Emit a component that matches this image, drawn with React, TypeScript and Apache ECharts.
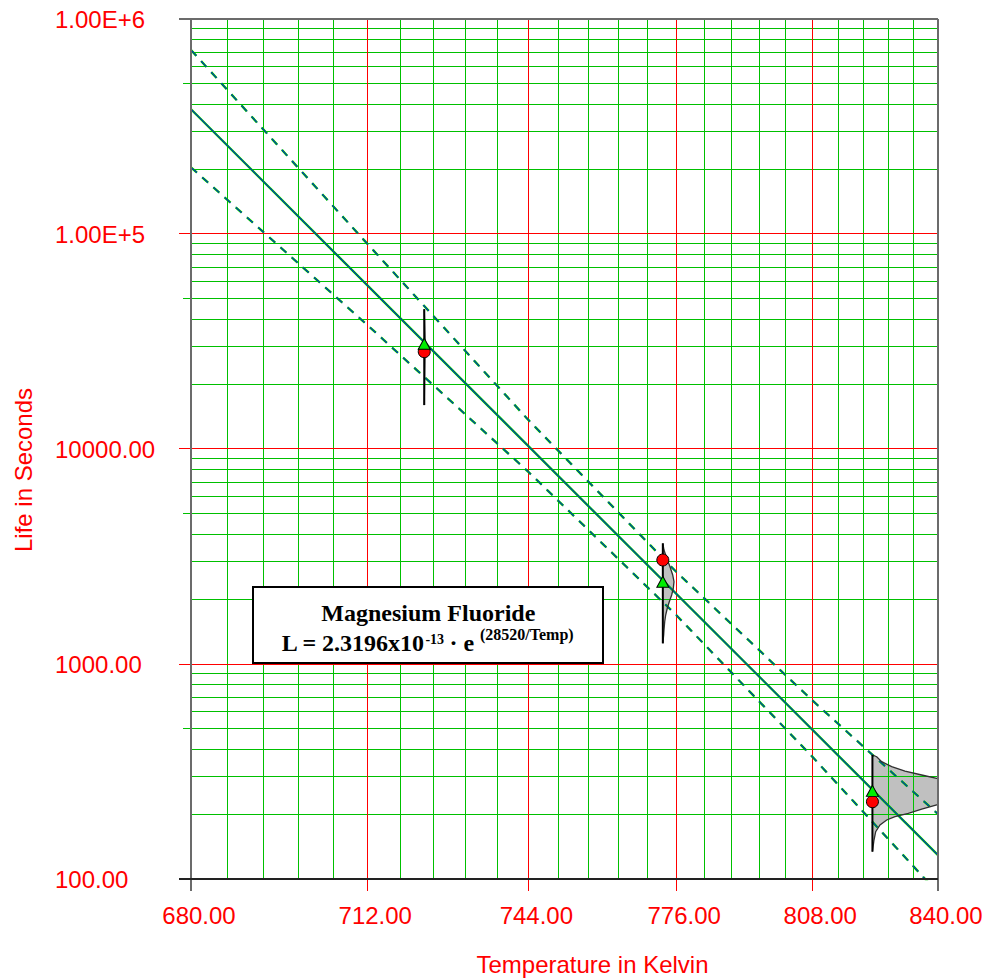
import React, { useEffect, useRef } from "react";
import * as echarts from "echarts";

// ---------- axis ticks ----------
const xMajorTicks = [680, 712, 744, 776, 808, 840];
const xTickLabels = ["680.00", "712.00", "744.00", "776.00", "808.00", "840.00"];
const xMinorTicks = [
  686.4, 692.8, 699.2, 705.6, 718.4, 724.8, 731.2, 737.6, 750.4, 756.8,
  763.2, 769.6, 782.4, 788.8, 795.2, 801.6, 814.4, 820.8, 827.2, 833.6,
];
const yMajorTicks = [100, 1000, 10000, 100000, 1000000];
const yTickLabels = ["100.00", "1000.00", "10000.00", "1.00E+5", "1.00E+6"];
const yMinorTicks = [
  200, 300, 400, 500, 600, 700, 800, 900,
  2000, 3000, 4000, 5000, 6000, 7000, 8000, 9000,
  20000, 30000, 40000, 50000, 60000, 70000, 80000, 90000,
  200000, 300000, 400000, 500000, 600000, 700000, 800000, 900000,
];
const yHalfDecadeTicks = [500, 5000, 50000, 500000];

// ---------- fitted life line and confidence bounds ----------
const fitTemps = [680, 840];
const fitLife = [380400, 129.1];
const boundTemps = [680, 712, 744, 776, 808, 840];
const upperLife = [717800, 90160, 13650, 2685, 677.6, 200.4];
const lowerLife = [204200, 37760, 7834, 1690, 370.7, 86.1];

// ---------- stress levels ----------
const stressTemps = [723, 773, 823];
const pointLife = [28350, 3046, 228.8];
const medianLife = [30850, 2414, 257];

// pdf outlines at each stress level, [temperature, life]
const pdf723 = [
  [723, 44700], [723.06, 40000], [723.12, 35000], [723.18, 30500],
  [723.12, 25500], [723.06, 20500], [723, 16000],
];
const pdf773 = [
  [773, 3642], [773.26, 3390], [773.87, 3102], [774.61, 2835], [775.22, 2594],
  [775.51, 2414], [775.35, 2249], [774.99, 2094], [774.45, 1949], [774.0, 1816],
  [773.64, 1690], [773.42, 1573], [773.26, 1439], [773.19, 1364], [773, 1248],
];
const pdf823 = [
  [823, 377.4], [824.09, 370.6], [825.36, 351.3], [827.92, 332.9], [831.36, 317.9],
  [835.71, 304.6], [839.65, 294.1], [842, 292], [842, 222.5], [839.65, 220.9],
  [835.71, 211.6], [832.21, 202.1], [828.77, 194.9], [826.64, 188.1], [824.93, 178.3],
  [823.83, 166.0], [823.4, 151.8], [823, 134],
];
const pdfs = [pdf723, pdf773, pdf823];

// ---------- styles ----------
const RED = "#ff0000";
const GREEN = "#00c000";
const FRAME = "#6b6b6b";
const SANS = '"Liberation Sans", Arial, sans-serif';
const SERIF = '"Liberation Serif", "Times New Roman", serif';

const toX = (t: number) => 1000 / t;

type GL = { dir: "v" | "h"; v: number; color: string; ext: number; w: number };

const gridItems: GL[] = [
  ...xMinorTicks.map((t) => ({ dir: "v" as const, v: t, color: GREEN, ext: 0, w: 1 })),
  ...yMinorTicks.map((v) => ({
    dir: "h" as const, v, color: GREEN, ext: yHalfDecadeTicks.includes(v) ? 8 : 0, w: 1,
  })),
  ...xMajorTicks.slice(1, -1).map((t) => ({ dir: "v" as const, v: t, color: RED, ext: 12, w: 1 })),
  ...yMajorTicks.slice(1, -1).map((v) => ({ dir: "h" as const, v, color: RED, ext: 12, w: 1 })),
];

const frameItems: GL[] = [
  { dir: "v", v: xMajorTicks[0], color: FRAME, ext: 12, w: 2 },
  { dir: "v", v: xMajorTicks[xMajorTicks.length - 1], color: FRAME, ext: 12, w: 2 },
  { dir: "h", v: yMajorTicks[yMajorTicks.length - 1], color: FRAME, ext: 12, w: 2 },
  { dir: "h", v: yMajorTicks[0], color: "#222222", ext: 12, w: 2 },
];

const itemData = (items: GL[]) =>
  items.map((g) => (g.dir === "v" ? [toX(g.v), yMajorTicks[1]] : [toX(xMajorTicks[1]), g.v]));

const makeLineRenderer = (items: GL[]) => (params: any, api: any) => {
  const g = items[params.dataIndex];
  const cs = params.coordSys;
  const crisp = (c: number) => (g.w % 2 === 1 ? Math.floor(c) + 0.5 : Math.round(c));
  if (g.dir === "v") {
    const x = crisp(api.coord([toX(g.v), yMajorTicks[0]])[0]);
    return {
      type: "line",
      silent: true,
      shape: { x1: x, y1: cs.y, x2: x, y2: cs.y + cs.height + g.ext },
      style: { stroke: g.color, lineWidth: g.w },
    };
  }
  const y = crisp(api.coord([toX(xMajorTicks[0]), g.v])[1]);
  return {
    type: "line",
    silent: true,
    shape: { x1: cs.x - g.ext, y1: y, x2: cs.x + cs.width, y2: y },
    style: { stroke: g.color, lineWidth: g.w },
  };
};

const pdfPoints = (params: any, api: any) => {
  const cs = params.coordSys;
  const pts = pdfs[params.dataIndex].map(([t, l]) => api.coord([toX(t), l]));
  return echarts.graphic.clipPointsByRect(pts, {
    x: cs.x, y: cs.y, width: cs.width, height: cs.height,
  } as any);
};

const lineSeries = (
  temps: number[], life: number[], color: string, width: number, dashed: boolean, z: number
) => ({
  type: "line",
  data: temps.map((t, i) => [toX(t), life[i]]),
  symbol: "none",
  silent: true,
  z,
  lineStyle: { color, width, type: dashed ? [8, 7] : "solid" },
});

export default function App() {
  const ref = useRef<HTMLDivElement>(null);

  useEffect(() => {
    document.body.style.margin = "0";
    const chart = echarts.init(ref.current!, null, { renderer: "svg" });
    const stressData = stressTemps.map((t, i) => [toX(t), pointLife[i]]);

    const option: any = {
      animation: false,
      backgroundColor: "#ffffff",
      grid: { left: 191, right: 49, top: 19, bottom: 100 },
      xAxis: {
        type: "value",
        min: toX(840),
        max: toX(680),
        inverse: true,
        axisLine: { show: false },
        axisTick: { show: false },
        axisLabel: { show: false },
        splitLine: { show: false },
      },
      yAxis: {
        type: "log",
        logBase: 10,
        min: 100,
        max: 1000000,
        axisLine: { show: false },
        axisTick: { show: false },
        splitLine: { show: false },
        axisLabel: {
          color: RED,
          fontSize: 24,
          fontFamily: SANS,
          align: "left",
          margin: 136,
          formatter: (v: number) => {
            const i = yMajorTicks.findIndex((t) => Math.abs(Math.log10(t) - Math.log10(v)) < 1e-6);
            return i >= 0 ? yTickLabels[i] : "";
          },
        },
      },
      series: [
        {
          type: "custom",
          z: 1,
          silent: true,
          data: stressData,
          renderItem: (params: any, api: any) => ({
            type: "polygon",
            shape: { points: pdfPoints(params, api) },
            style: { fill: "#c0c0c0", stroke: "none" },
          }),
        },
        {
          type: "custom",
          z: 2,
          silent: true,
          data: itemData(gridItems),
          renderItem: makeLineRenderer(gridItems),
        },
        lineSeries(upperLife.length ? boundTemps : [], upperLife, GREEN, 2.4, true, 3),
        lineSeries(boundTemps, upperLife, "#0000ff", 1, true, 3),
        lineSeries(boundTemps, lowerLife, GREEN, 2.4, true, 3),
        lineSeries(boundTemps, lowerLife, "#0000ff", 1, true, 3),
        lineSeries(fitTemps, fitLife, GREEN, 2.4, false, 3),
        lineSeries(fitTemps, fitLife, "#0000ff", 1, false, 3),
        {
          type: "custom",
          z: 4,
          silent: true,
          data: stressData,
          renderItem: (params: any, api: any) => {
            const pts = pdfPoints(params, api);
            const a = pts[0];
            const b = pts[pts.length - 1];
            return {
              type: "group",
              children: [
                {
                  type: "polyline",
                  shape: { points: pts },
                  style: { stroke: "#303030", lineWidth: 1.3, fill: null },
                },
                {
                  type: "line",
                  shape: { x1: a[0], y1: a[1], x2: b[0], y2: b[1] },
                  style: { stroke: "#000000", lineWidth: 2 },
                },
              ],
            };
          },
        },
        {
          type: "scatter",
          z: 5,
          silent: true,
          data: stressData,
          symbol: "circle",
          symbolSize: 12,
          itemStyle: { color: RED, borderColor: "#000000", borderWidth: 1, opacity: 1 },
        },
        {
          type: "scatter",
          z: 6,
          silent: true,
          data: stressTemps.map((t, i) => [toX(t), medianLife[i]]),
          symbol: "triangle",
          symbolSize: [12, 11],
          itemStyle: { color: "#00ee00", borderColor: "#000000", borderWidth: 1, opacity: 1 },
        },
        {
          type: "custom",
          z: 7,
          silent: true,
          data: itemData(frameItems),
          renderItem: makeLineRenderer(frameItems),
        },
        {
          type: "custom",
          z: 7,
          silent: true,
          data: xMajorTicks.map((t) => [toX(t), yMajorTicks[0]]),
          renderItem: (params: any, api: any) => {
            const cs = params.coordSys;
            const p = api.coord([toX(xMajorTicks[params.dataIndex]), yMajorTicks[0]]);
            return {
              type: "text",
              x: p[0] + 8,
              y: cs.y + cs.height + 36,
              style: {
                text: xTickLabels[params.dataIndex],
                fill: RED,
                fontSize: 24,
                fontFamily: SANS,
                align: "center",
                verticalAlign: "middle",
              },
            };
          },
        },
      ],
      graphic: [
        {
          type: "text",
          x: 23.4,
          y: 470,
          rotation: Math.PI / 2,
          z: 100,
          style: {
            text: "Life in Seconds",
            fill: RED,
            fontSize: 24,
            fontFamily: SANS,
            align: "center",
            verticalAlign: "middle",
          },
        },
        {
          type: "text",
          x: 592.5,
          y: 964,
          z: 100,
          style: {
            text: "Temperature in Kelvin",
            fill: RED,
            fontSize: 24,
            fontFamily: SANS,
            align: "center",
            verticalAlign: "middle",
          },
        },
        {
          type: "rect",
          z: 100,
          shape: { x: 253, y: 587, width: 350, height: 76 },
          style: { fill: "#ffffff", stroke: "#000000", lineWidth: 2 },
        },
        {
          type: "text",
          z: 101,
          x: 428.3,
          y: 612.6,
          style: {
            text: "Magnesium Fluoride",
            fill: "#000000",
            fontSize: 24,
            fontWeight: "bold",
            fontFamily: SERIF,
            align: "center",
            verticalAlign: "middle",
          },
        },
        {
          type: "text",
          z: 101,
          x: 281.7,
          y: 643,
          style: {
            text: "L = 2.3196x10",
            fill: "#000000",
            fontSize: 24,
            fontWeight: "bold",
            fontFamily: SERIF,
            align: "left",
            verticalAlign: "middle",
          },
        },
        {
          type: "text",
          z: 101,
          x: 425.4,
          y: 639.3,
          style: {
            text: "-13",
            fill: "#000000",
            fontSize: 14,
            fontWeight: "bold",
            fontFamily: SERIF,
            align: "left",
            verticalAlign: "middle",
          },
        },
        {
          type: "text",
          z: 101,
          x: 443.4,
          y: 643,
          style: {
            text: " \u00b7 e",
            fill: "#000000",
            fontSize: 24,
            fontWeight: "bold",
            fontFamily: SERIF,
            align: "left",
            verticalAlign: "middle",
          },
        },
        {
          type: "text",
          z: 101,
          x: 480,
          y: 634.9,
          style: {
            text: "(28520/Temp)",
            fill: "#000000",
            fontSize: 16,
            fontWeight: "bold",
            fontFamily: SERIF,
            align: "left",
            verticalAlign: "middle",
          },
        },
      ],
    };

    chart.setOption(option);
    return () => chart.dispose();
  }, []);

  return <div ref={ref} style={{ width: 987, height: 979 }} />;
}
